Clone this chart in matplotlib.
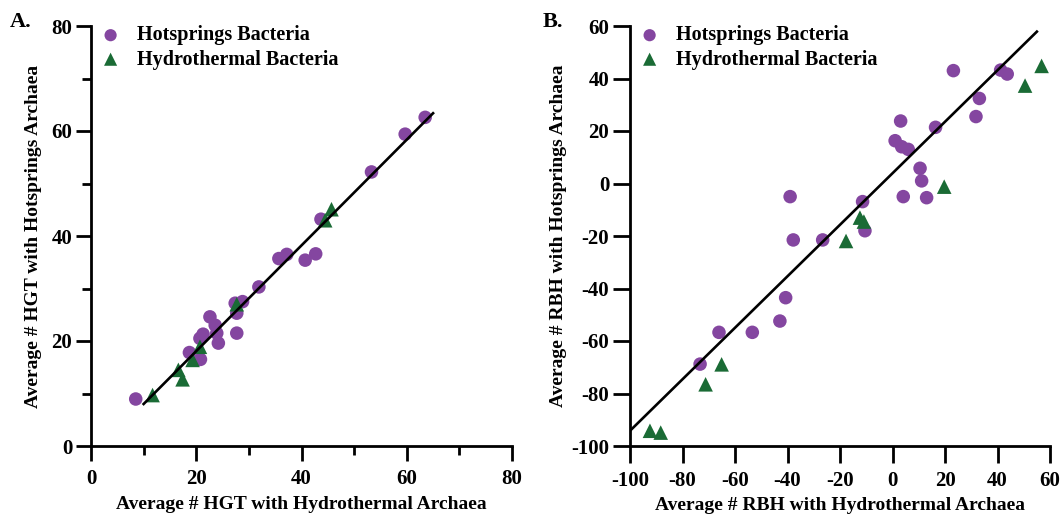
import matplotlib
matplotlib.use("Agg")
import matplotlib.pyplot as plt
import numpy as np
from matplotlib.ticker import MultipleLocator

plt.rcParams['font.family'] = ['Liberation Serif', 'DejaVu Serif']
plt.rcParams['font.weight'] = 'bold'
plt.rcParams['axes.unicode_minus'] = False

# ---- Panel A data (HGT) ----
a_hot_x = [8.5, 18.7, 20.8, 21.3, 20.7, 22.6, 23.6, 23.9, 24.2, 27.7, 27.7, 27.4, 28.8,
           31.9, 35.7, 37.2, 40.7, 42.7, 43.7, 53.3, 59.7, 63.5]
a_hot_y = [8.95, 17.8, 16.5, 21.3, 20.5, 24.6, 23.0, 21.5, 19.6, 21.5, 25.3, 27.2, 27.5,
           30.3, 35.7, 36.5, 35.4, 36.6, 43.2, 52.2, 59.4, 62.6]
a_hyd_x = [11.7, 16.6, 17.4, 19.3, 20.7, 27.7, 44.5, 45.7]
a_hyd_y = [9.7, 14.5, 12.7, 16.4, 18.9, 27.0, 43.0, 45.1]
a_fit_range = [10, 65]
a_fit_slope = 1.007
a_fit_intercept = -2.07

# ---- Panel B data (RBH) ----
b_hot_x = [-73.3, -66.1, -53.4, -42.9, -40.7, -39.0, -37.8, -26.6, -11.4, -10.5,
           1.0, 3.1, 3.5, 6.0, 4.1, 10.5, 11.1, 13.0, 16.4, 23.2, 31.8, 33.1, 41.2, 43.7]
b_hot_y = [-68.8, -56.7, -56.7, -52.4, -43.5, -5.0, -21.5, -21.5, -6.9, -18.0,
           16.3, 23.8, 14.0, 13.0, -5.0, 5.8, 1.0, -5.4, 21.4, 43.0, 25.5, 32.4, 43.2, 41.7]
b_hyd_x = [-92.4, -88.3, -71.2, -65.1, -17.7, -12.4, -10.9, 19.7, 50.5, 56.8]
b_hyd_y = [-94.2, -94.9, -76.5, -68.9, -21.9, -13.0, -14.5, -1.2, 37.3, 44.8]
b_fit_range = [-100, 55]
b_fit_slope = 0.981
b_fit_intercept = 3.9

PURPLE = '#8446A0'
GREEN = '#1A6B35'

fig = plt.figure(figsize=(10.63, 5.14), dpi=100)
axA = fig.add_axes([91/1063, 68/514, 421/1063, 420/514])
axB = fig.add_axes([630/1063, 68/514, 420/1063, 420/514])


def style(ax, major_len):
    for s in ['top', 'right']:
        ax.spines[s].set_visible(False)
    for s in ['left', 'bottom']:
        ax.spines[s].set_linewidth(2.0)
    ax.tick_params(which='major', direction='out', length=major_len, width=2.0, labelsize=15)
    ax.tick_params(axis='x', which='major', pad=6)
    ax.tick_params(axis='y', which='major', pad=3)
    ax.tick_params(which='minor', direction='out', length=6.5, width=2.0)
    for lab in ax.get_xticklabels() + ax.get_yticklabels():
        lab.set_fontweight('bold')


def draw(ax, hx, hy, tx, ty, fr, sl, ic):
    fx = np.array(fr, dtype=float)
    ax.plot(fx, sl * fx + ic, color='black', lw=1.9, zorder=3)
    ax.scatter(hx, hy, s=95, marker='o', color=PURPLE, edgecolors='none', zorder=2,
               label='Hotsprings Bacteria')
    ax.scatter(tx, ty, s=110, marker='^', color=GREEN, edgecolors='none', zorder=2,
               label='Hydrothermal Bacteria')
    ax.legend(loc='upper left', bbox_to_anchor=(-0.03, 1.03), frameon=False,
              prop={'family': 'Liberation Serif', 'weight': 'bold', 'size': 14.5},
              handletextpad=0.3, labelspacing=0.2, markerscale=0.9,
              borderaxespad=0.2)

# Panel A
draw(axA, a_hot_x, a_hot_y, a_hyd_x, a_hyd_y, a_fit_range, a_fit_slope, a_fit_intercept)
axA.set_xlim(0, 80)
axA.set_ylim(0, 80)
axA.xaxis.set_major_locator(MultipleLocator(20))
axA.yaxis.set_major_locator(MultipleLocator(20))
axA.xaxis.set_minor_locator(MultipleLocator(10))
axA.yaxis.set_minor_locator(MultipleLocator(10))
style(axA, 10.5)
axA.set_xlabel('Average # HGT with Hydrothermal Archaea', fontsize=14, fontweight='bold', labelpad=5)
axA.set_ylabel('Average # HGT with Hotsprings Archaea', fontsize=14, fontweight='bold', labelpad=7)

# Panel B
draw(axB, b_hot_x, b_hot_y, b_hyd_x, b_hyd_y, b_fit_range, b_fit_slope, b_fit_intercept)
axB.set_xlim(-100, 60)
axB.set_ylim(-100, 60)
axB.xaxis.set_major_locator(MultipleLocator(20))
axB.yaxis.set_major_locator(MultipleLocator(20))
style(axB, 12.0)
axB.set_xlabel('Average # RBH with Hydrothermal Archaea', fontsize=14, fontweight='bold', labelpad=4)
axB.set_ylabel('Average # RBH with Hotsprings Archaea', fontsize=14, fontweight='bold', labelpad=3)

fig.text(10/1063, 1 - 22/514, 'A.', fontsize=16, fontweight='bold', va='center', ha='left')
fig.text(543/1063, 1 - 22/514, 'B.', fontsize=16, fontweight='bold', va='center', ha='left')

fig.savefig('out.png', dpi=100)
